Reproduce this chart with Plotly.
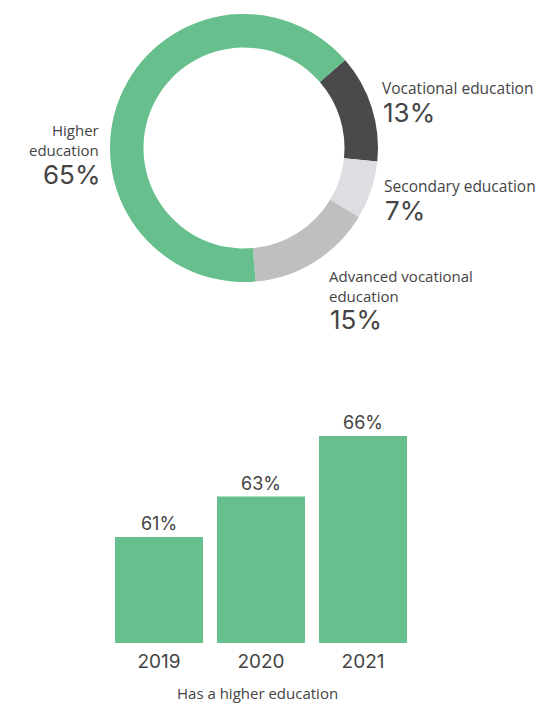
import plotly.graph_objects as go

# Education breakdown (donut)
edu_labels = ["Vocational education", "Secondary education", "Advanced vocational education", "Higher education"]
edu_values = [13, 7, 15, 65]
edu_colors = ["#4a4a4c", "#dcdee2", "#bfbfbf", "#66bf8c"]

# Share with higher education by year (bars)
years = ["2019", "2020", "2021"]
higher_share = [61, 63, 66]

W, H = 544, 705
TXT = "#444444"
NUM_FONT = "Inter"
LBL_FONT = "Open Sans"


def px(x):
    return x / W


def py(y):
    return 1 - y / H


fig = go.Figure()

fig.add_trace(go.Pie(
    labels=edu_labels,
    values=edu_values,
    marker=dict(colors=edu_colors, line=dict(width=0)),
    hole=0.75,
    sort=False,
    direction="clockwise",
    rotation=49,
    textinfo="none",
    showlegend=False,
    domain=dict(x=[px(110), px(378)], y=[py(282), py(14)]),
))

fig.add_trace(go.Bar(
    x=years,
    y=higher_share,
    marker=dict(color="#66bf8c", line=dict(width=0)),
    text=[f"{v}%" for v in higher_share],
    textposition="outside",
    textfont=dict(size=18, color=TXT, family=NUM_FONT),
    cliponaxis=False,
    showlegend=False,
    xaxis="x",
    yaxis="y",
))

fig.update_layout(
    width=W, height=H,
    margin=dict(l=0, r=0, t=0, b=0),
    paper_bgcolor="white",
    plot_bgcolor="white",
    font=dict(family=NUM_FONT, color=TXT),
    bargap=0.137,
    xaxis=dict(
        domain=[px(108), px(414)],
        anchor="y",
        showgrid=False, zeroline=False, showline=False,
        ticks="", tickfont=dict(size=19, color=TXT, family=NUM_FONT),
        ticklabelstandoff=5,
    ),
    yaxis=dict(
        domain=[py(643), py(400)],
        range=[55.75, 67.78],
        visible=False,
    ),
)

# Donut slice labels
anns = []


def label(x, y, text, size, anchor="left", family=LBL_FONT):
    anns.append(dict(
        x=px(x), y=py(y), xref="paper", yref="paper",
        text=text, showarrow=False,
        xanchor=anchor, yanchor="middle",
        align=anchor,
        font=dict(size=size, color=TXT, family=family),
    ))


label(101, 140, "Higher<br>education", 15, "right")
label(102, 174, "65%", 26, "right", NUM_FONT)
label(380, 88, "Vocational education", 15.5)
label(381, 112, "13%", 26, family=NUM_FONT)
label(382, 186, "Secondary education", 15.5)
label(383, 210, "7%", 26, family=NUM_FONT)
label(327, 286, "Advanced vocational<br>education", 15)
label(328, 319, "15%", 26, family=NUM_FONT)

anns.append(dict(
    x=px(257), y=py(693), xref="paper", yref="paper",
    text="Has a higher education", showarrow=False,
    xanchor="center", yanchor="middle",
    font=dict(size=15, color=TXT, family=LBL_FONT),
))

fig.update_layout(annotations=anns)

fig.write_html("out.html")
